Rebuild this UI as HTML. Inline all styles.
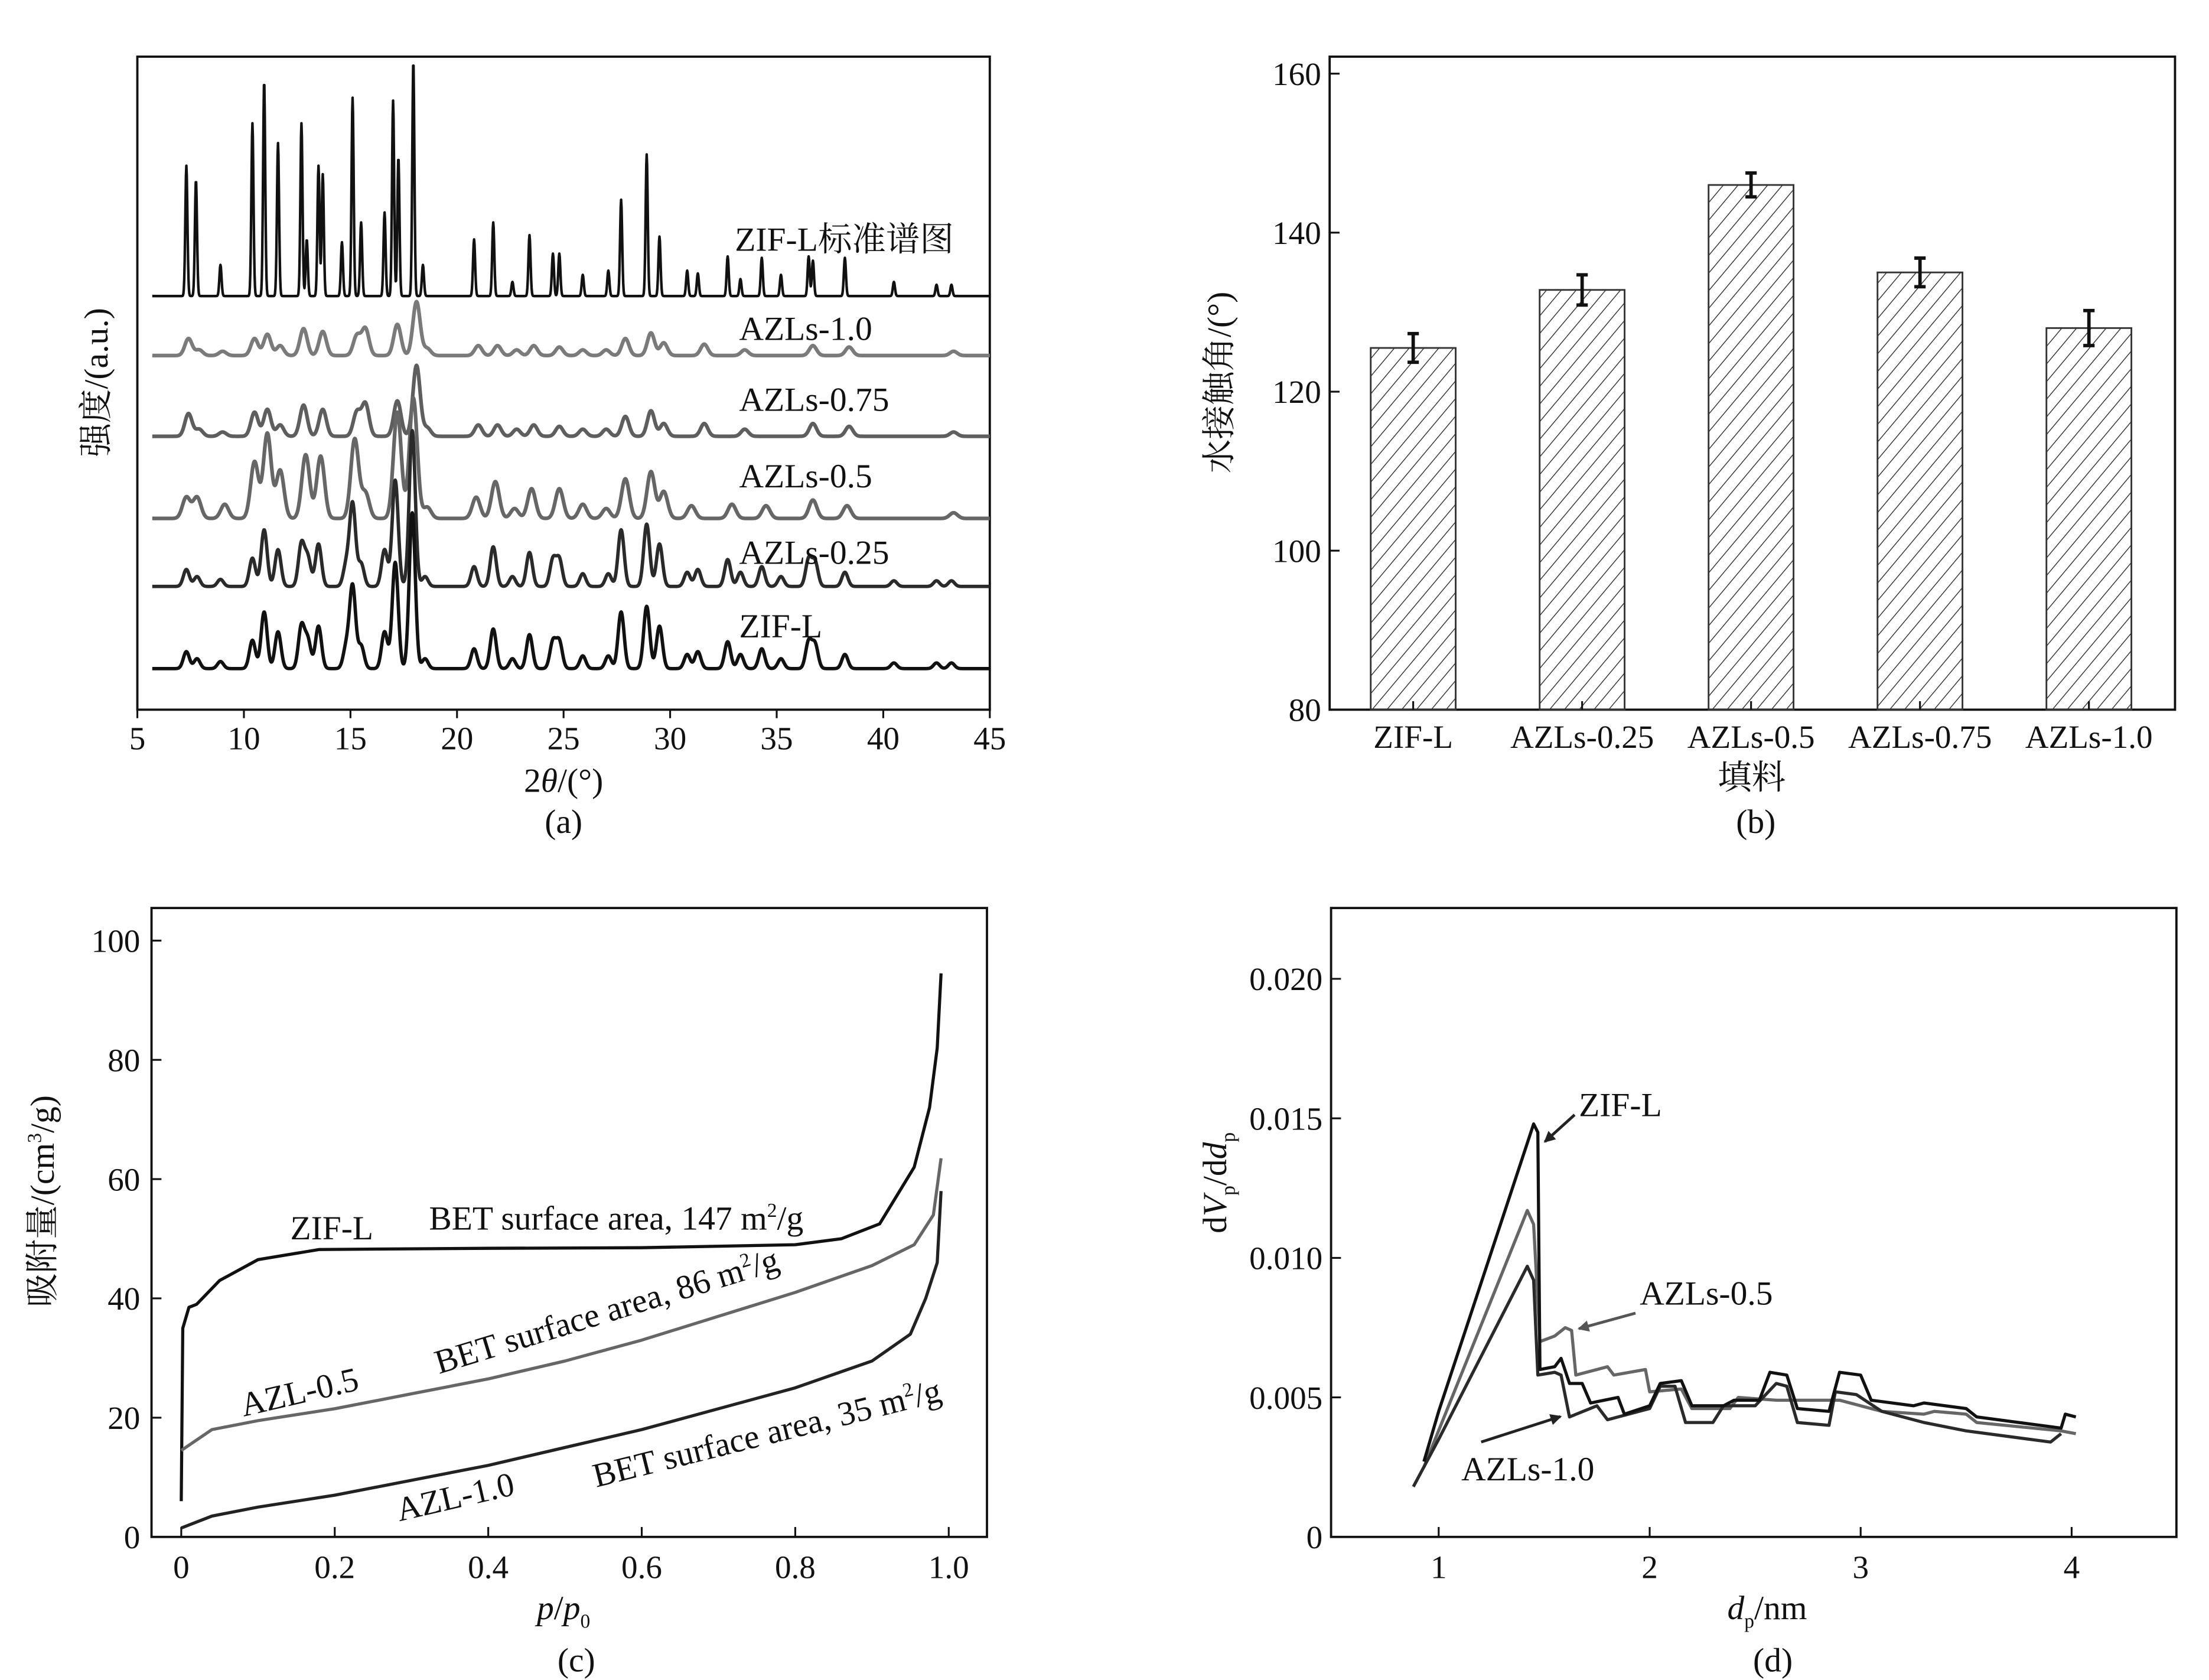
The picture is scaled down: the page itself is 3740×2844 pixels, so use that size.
<!DOCTYPE html>
<html><head><meta charset="utf-8"><style>
html,body{margin:0;padding:0;background:#fff;}
svg{display:block;}
text{font-family:"Liberation Serif","Noto Serif CJK SC",serif;fill:#111;}
</style></head><body>
<svg id="fig" xmlns="http://www.w3.org/2000/svg" width="3740" height="2844" viewBox="0 0 1560 1186" preserveAspectRatio="none">
<defs>
<pattern id="hatch" patternUnits="userSpaceOnUse" width="8" height="8" patternTransform="rotate(40)">
<line x1="0" y1="0" x2="0" y2="8" stroke="#333" stroke-width="1.2"/>
</pattern>
<marker id="arr" markerWidth="8" markerHeight="8" refX="7" refY="4" orient="auto" markerUnits="userSpaceOnUse"><path d="M0,0 L8,4 L0,8 z" fill="#222"/></marker>
<marker id="arrg" markerWidth="8" markerHeight="8" refX="7" refY="4" orient="auto" markerUnits="userSpaceOnUse"><path d="M0,0 L8,4 L0,8 z" fill="#555"/></marker>
</defs>
<g id="pa"></g>
<g id="pb"></g>
<g id="pc"></g>
<g id="pd"></g>
</svg>
<script>
// ---------- Panel (a) XRD data ----------
const xrdStdPos=[7.3,7.75,8.9,10.4,10.95,11.6,12.7,12.95,13.5,13.7,14.6,15.1,15.5,16.6,17.0,17.25,17.95,18.4,20.8,21.7,22.6,23.4,24.5,24.8,25.9,27.1,27.7,28.9,29.5,30.8,31.3,32.7,33.3,34.3,35.2,36.5,36.7,38.2,40.5,42.5,43.2];
const xrdStdH=[92,82,22,122,152,108,122,40,92,86,38,140,52,59,138,98,166,22,40,52,10,43,30,30,15,18,68,100,42,18,16,28,12,27,15,28,25,27,10,8,8];
const xrdExpPos=[7.3,7.8,8.9,10.4,10.95,11.6,12.7,13.0,13.5,14.8,15.1,15.5,16.6,17.1,17.9,18.5,20.8,21.7,22.6,23.4,24.5,24.8,25.9,27.1,27.7,28.9,29.5,30.8,31.3,32.7,33.3,34.3,35.2,36.5,36.8,38.2,40.5,42.5,43.2];
const xrdZifH=[12,7,5,20,40,26,30,20,30,15,58,16,26,75,110,7,14,28,7,24,19,19,9,9,40,44,30,10,12,19,10,14,7,19,17,10,4,4,4];
const xrd025H=[12,7,5,20,40,26,30,20,30,15,58,16,26,75,110,7,14,28,7,24,19,19,9,9,40,44,30,10,12,19,10,14,7,19,17,10,4,4,4];
const xrd05Pos=[7.3,7.8,9.1,10.5,11.1,11.7,12.9,13.6,15.2,15.7,17.2,17.95,18.6,20.9,21.8,22.7,23.5,24.8,25.9,27.0,27.9,29.1,29.7,31.0,32.9,34.5,36.7,38.3,43.3];
const xrd05H=[15,15,10,40,60,34,45,44,56,18,75,85,8,15,26,7,21,21,10,7,28,33,19,9,10,9,13,9,4];
const xrdLowPos=[7.4,7.9,9.0,10.5,11.1,11.7,12.8,13.7,15.3,15.7,17.2,18.1,18.6,21.0,21.9,22.8,23.6,24.8,25.9,27.0,27.9,29.1,29.7,31.6,33.5,36.7,38.4,43.3];
const xrd075H=[16,5,3,17,19,8,22,19,17,23,25,50,6,8,8,5,8,7,5,5,14,18,9,9,5,9,7,3];
const xrd10H=[12,4,3,12,15,7,19,17,14,19,22,38,5,7,7,4,7,6,4,4,12,16,9,8,4,7,6,3];
const xrdNames=["ZIF-L标准谱图","AZLs-1.0","AZLs-0.75","AZLs-0.5","AZLs-0.25","ZIF-L"];
const xrdTicks=[5,10,15,20,25,30,35,40,45];

// ---------- Panel (b) data ----------
const barCats=["ZIF-L","AZLs-0.25","AZLs-0.5","AZLs-0.75","AZLs-1.0"];
const barVals=[125.5,132.8,146.0,135.0,128.0];
const barErr=[1.8,1.9,1.5,1.8,2.2];
const barTicks=[80,100,120,140,160];

// ---------- Panel (c) data ----------
const isoZifP=[0,0.002,0.01,0.02,0.05,0.1,0.18,0.4,0.6,0.8,0.86,0.91,0.955,0.975,0.985,0.99];
const isoZifV=[6,35,38.5,39,43,46.5,48.2,48.4,48.5,49,50,52.5,62,72,82,94.5];
const iso05P=[0,0.04,0.1,0.2,0.3,0.4,0.5,0.6,0.7,0.8,0.9,0.955,0.98,0.99];
const iso05V=[14.5,18,19.5,21.5,24,26.5,29.5,33,37,41,45.5,49,54,63.5];
const iso10P=[0,0.04,0.1,0.2,0.3,0.4,0.5,0.6,0.7,0.8,0.9,0.95,0.97,0.985,0.99];
const iso10V=[1.5,3.5,5,7,9.5,12,15,18,21.5,25,29.5,34,40,46,58];
const isoXTicks=[0,0.2,0.4,0.6,0.8,1.0];
const isoXLabels=["0","0.2","0.4","0.6","0.8","1.0"];
const isoYTicks=[0,20,40,60,80,100];

// ---------- Panel (d) data ----------
const psdZifD=[0.93,1.0,1.45,1.47,1.48,1.55,1.58,1.62,1.68,1.72,1.85,1.88,2.0,2.05,2.15,2.2,2.35,2.4,2.52,2.57,2.65,2.7,2.85,2.9,3.0,3.05,3.25,3.3,3.5,3.55,3.95,3.97,4.02];
const psdZifV=[0.0027,0.0045,0.0148,0.0145,0.006,0.0061,0.0064,0.0055,0.0055,0.0048,0.005,0.0044,0.0047,0.0055,0.0056,0.0047,0.0047,0.0049,0.0049,0.0059,0.0058,0.0046,0.0045,0.0059,0.0058,0.0049,0.0047,0.0048,0.0046,0.0043,0.0039,0.0044,0.0043];
const psd05D=[0.93,1.42,1.45,1.48,1.55,1.6,1.63,1.65,1.8,1.83,1.98,2.0,2.15,2.2,2.38,2.42,2.6,2.9,3.0,3.1,3.3,3.35,3.5,3.55,3.95,4.02];
const psd05V=[0.0025,0.0117,0.0112,0.007,0.0072,0.0075,0.0074,0.0058,0.0061,0.0058,0.006,0.0052,0.0053,0.0046,0.0046,0.005,0.0049,0.0049,0.0047,0.0045,0.0044,0.0045,0.0044,0.0041,0.0038,0.0037];
const psd10D=[0.88,1.0,1.42,1.45,1.47,1.55,1.58,1.62,1.75,1.8,2.0,2.05,2.12,2.17,2.3,2.35,2.5,2.6,2.65,2.7,2.85,2.88,2.98,3.1,3.3,3.5,3.9,3.95];
const psd10V=[0.0018,0.0035,0.0097,0.0092,0.0058,0.0059,0.0058,0.0043,0.0047,0.0042,0.0046,0.0054,0.0054,0.0041,0.0041,0.0047,0.0047,0.0055,0.0054,0.0041,0.004,0.0052,0.0051,0.0045,0.0041,0.0038,0.0034,0.0037];
const psdXTicks=[1,2,3,4];
const psdYTicks=[0,0.005,0.010,0.015,0.020];
const psdYLabels=["0","0.005","0.010","0.015","0.020"];

const NS="http://www.w3.org/2000/svg";
function mk(parent,tag,attrs,txt){const e=document.createElementNS(NS,tag);for(const k in attrs)e.setAttribute(k,attrs[k]);if(txt!==undefined)e.textContent=txt;parent.appendChild(e);return e;}
function pathOf(xs,ys,fx,fy){let d="";for(let i=0;i<xs.length;i++){d+=(i?"L":"M")+fx(xs[i]).toFixed(2)+","+fy(ys[i]).toFixed(2);}return d;}

// ===== Panel A =====
(function(){
const g=document.getElementById('pa');
const L=97,R=699,T=40,B=501;
const fx=v=>L+(v-5)*(R-L)/40;
let e=mk(g,'rect',{x:L,y:T,width:R-L,height:B-T,fill:'none',stroke:'#111','stroke-width':1.6});

xrdTicks.forEach(t=>{
 let tk=mk(g,'line',{x1:fx(t),x2:fx(t),y1:B,y2:B+6,stroke:'#111','stroke-width':1.3});
 
 let lb=mk(g,'text',{x:fx(t),y:529,'font-size':23,'text-anchor':'middle'},String(t));
 
});
const traces=[
 {pos:xrdStdPos,h:xrdStdH,base:209,w:0.07,col:'#111',sw:1.8},
 {pos:xrdLowPos,h:xrd10H,base:251,w:0.24,col:'#7a7a7a',sw:2.6},
 {pos:xrdLowPos,h:xrd075H,base:308,w:0.24,col:'#5e5e5e',sw:2.6},
 {pos:xrd05Pos,h:xrd05H,base:366,w:0.26,col:'#666',sw:2.6},
 {pos:xrdExpPos,h:xrd025H,base:414,w:0.2,col:'#2a2a2a',sw:2.4},
 {pos:xrdExpPos,h:xrdZifH,base:472,w:0.2,col:'#111',sw:2.4}
];
const names=['trace-zif-l-standard','trace-azls-1.0','trace-azls-0.75','trace-azls-0.5','trace-azls-0.25','trace-zif-l'];
traces.forEach((tr,k)=>{
 let d="";
 for(let x=5.7;x<=45.001;x+=0.02){
  let y=0;for(let i=0;i<tr.pos.length;i++){const z=(x-tr.pos[i])/tr.w;y+=tr.h[i]*Math.exp(-z*z);}
  d+=(d?"L":"M")+fx(x).toFixed(2)+","+(tr.base-y).toFixed(2);
 }
 let p=mk(g,'path',{d:d,fill:'none',stroke:tr.col,'stroke-width':tr.sw,'stroke-linejoin':'round'});
 
});
const lblY=[177,240,290,344,398,450];
xrdNames.forEach((n,i)=>{
 let t=mk(g,'text',{x:i==0?519:522,y:lblY[i],'font-size':24},n);
 
});
e=mk(g,'text',{x:0,y:0,'font-size':24,'text-anchor':'middle',transform:'translate(76,270) rotate(-90)'},'强度/(a.u.)');

e=mk(g,'text',{x:398,y:559,'font-size':24,'text-anchor':'middle'});

e.innerHTML='2<tspan font-style="italic">θ</tspan>/(°)';
e=mk(g,'text',{x:398,y:588,'font-size':24,'text-anchor':'middle'},'(a)');

})();

// ===== Panel B =====
(function(){
const g=document.getElementById('pb');
const L=939,R=1536,T=40,B=501;
const fy=v=>B-(v-80)*(449/80);
const cx=i=>998+i*119.3;
let e=mk(g,'rect',{x:L,y:T,width:R-L,height:B-T,fill:'none',stroke:'#111','stroke-width':1.6});

barTicks.forEach(t=>{
 let tk=mk(g,'line',{x1:L,x2:L+7,y1:fy(t),y2:fy(t),stroke:'#111','stroke-width':1.3});
 
 let lb=mk(g,'text',{x:L-6,y:fy(t)+8,'font-size':23,'text-anchor':'end'},String(t));
 
});
barCats.forEach((c,i)=>{
 const x=cx(i),w=60,top=fy(barVals[i]);
 let b=mk(g,'rect',{x:x-w/2,y:top,width:w,height:B-top,fill:'url(#hatch)',stroke:'#333','stroke-width':1.2});
 
 const y1=fy(barVals[i]+barErr[i]),y2=fy(barVals[i]-barErr[i]);
 let eb=mk(g,'path',{d:`M${x},${y1}L${x},${y2}M${x-4},${y1}L${x+4},${y1}M${x-4},${y2}L${x+4},${y2}`,stroke:'#111','stroke-width':2.4,fill:'none'});
 
 let tk=mk(g,'line',{x1:x,x2:x,y1:B,y2:B-6,stroke:'#111','stroke-width':1.3});
 
 let lb=mk(g,'text',{x:x,y:528,'font-size':23,'text-anchor':'middle'},c);
 
});
e=mk(g,'text',{x:1237,y:557,'font-size':24,'text-anchor':'middle'},'填料');

e=mk(g,'text',{x:0,y:0,'font-size':24,'text-anchor':'middle',transform:'translate(869,270) rotate(-90)'},'水接触角/(°)');

e=mk(g,'text',{x:1240,y:588,'font-size':24,'text-anchor':'middle'},'(b)');

})();

// ===== Panel C =====
(function(){
const g=document.getElementById('pc');
const L=107,R=697,T=641,B=1085;
const fx=v=>128+v*542;
const fy=v=>B-v*4.21;
let e=mk(g,'rect',{x:L,y:T,width:R-L,height:B-T,fill:'none',stroke:'#111','stroke-width':1.6});

isoYTicks.forEach(t=>{
 let tk=mk(g,'line',{x1:L,x2:L+7,y1:fy(t),y2:fy(t),stroke:'#111','stroke-width':1.3});
 
 let lb=mk(g,'text',{x:L-8,y:fy(t)+8,'font-size':23,'text-anchor':'end'},String(t));
 
});
isoXTicks.forEach((t,i)=>{
 let tk=mk(g,'line',{x1:fx(t),x2:fx(t),y1:B,y2:B-7,stroke:'#111','stroke-width':1.3});
 
 let lb=mk(g,'text',{x:fx(t),y:1114,'font-size':23,'text-anchor':'middle'},isoXLabels[i]);
 
});
const series=[[isoZifP,isoZifV,'#111','isotherm-zif-l'],[iso05P,iso05V,'#666','isotherm-azl-0.5'],[iso10P,iso10V,'#222','isotherm-azl-1.0']];
series.forEach(s=>{
 let p=mk(g,'path',{d:pathOf(s[0],s[1],fx,fy),fill:'none',stroke:s[2],'stroke-width':2.2,'stroke-linejoin':'round'});
 
});
const ann=[
 ['ZIF-L',205,875,0],
 ['BET surface area, 147 m<tspan font-size="14" dy="-9">2</tspan><tspan dy="9">/g</tspan>',303,868,0],
 ['BET surface area, 86 m<tspan font-size="14" dy="-9">2</tspan><tspan dy="9">/g</tspan>',310,970,-17],
 ['AZL-0.5',172,1000,-13],
 ['AZL-1.0',282,1074,-13],
 ['BET surface area, 35 m<tspan font-size="14" dy="-9">2</tspan><tspan dy="9">/g</tspan>',421,1050,-14]
];
ann.forEach(a=>{
 let t=mk(g,'text',{x:0,y:0,'font-size':24,transform:`translate(${a[1]},${a[2]}) rotate(${a[3]})`});
 t.innerHTML=a[0];
 
});
e=mk(g,'text',{x:0,y:0,'font-size':24,'text-anchor':'middle',transform:'translate(38,848) rotate(-90)'});
e.innerHTML='吸附量/(cm<tspan font-size="14" dy="-9">3</tspan><tspan dy="9">/g)</tspan>';

e=mk(g,'text',{x:398,y:1143,'font-size':24,'text-anchor':'middle'});
e.innerHTML='<tspan font-style="italic">p</tspan>/<tspan font-style="italic">p</tspan><tspan font-size="14" dy="6">0</tspan>';

e=mk(g,'text',{x:407,y:1180,'font-size':24,'text-anchor':'middle'},'(c)');

})();

// ===== Panel D =====
(function(){
const g=document.getElementById('pd');
const L=940,R=1537,T=641,B=1085;
const fx=v=>1016+(v-1)*149;
const fy=v=>B-v*19700;
let e=mk(g,'rect',{x:L,y:T,width:R-L,height:B-T,fill:'none',stroke:'#111','stroke-width':1.6});

psdYTicks.forEach((t,i)=>{
 let tk=mk(g,'line',{x1:L,x2:L+7,y1:fy(t),y2:fy(t),stroke:'#111','stroke-width':1.3});
 
 let lb=mk(g,'text',{x:L-6,y:fy(t)+8,'font-size':23,'text-anchor':'end'},psdYLabels[i]);
 
});
psdXTicks.forEach(t=>{
 let tk=mk(g,'line',{x1:fx(t),x2:fx(t),y1:B,y2:B-7,stroke:'#111','stroke-width':1.3});
 
 let lb=mk(g,'text',{x:fx(t),y:1114,'font-size':23,'text-anchor':'middle'},String(t));
 
});
const series=[[psd05D,psd05V,'#666','psd-azls-0.5'],[psd10D,psd10V,'#2a2a2a','psd-azls-1.0'],[psdZifD,psdZifV,'#111','psd-zif-l']];
series.forEach(s=>{
 let p=mk(g,'path',{d:pathOf(s[0],s[1],fx,fy),fill:'none',stroke:s[2],'stroke-width':2.2,'stroke-linejoin':'round'});
 
});
e=mk(g,'line',{x1:1112,y1:787,x2:1091,y2:806,stroke:'#222','stroke-width':2,'marker-end':'url(#arr)'});

e=mk(g,'text',{x:1115,y:788,'font-size':24},'ZIF-L');

e=mk(g,'line',{x1:1155,y1:927,x2:1115,y2:938,stroke:'#555','stroke-width':2,'marker-end':'url(#arrg)'});

e=mk(g,'text',{x:1158,y:921,'font-size':24},'AZLs-0.5');

e=mk(g,'line',{x1:1046,y1:1018,x2:1102,y2:1000,stroke:'#222','stroke-width':2,'marker-end':'url(#arr)'});

e=mk(g,'text',{x:1032,y:1045,'font-size':24},'AZLs-1.0');

e=mk(g,'text',{x:0,y:0,'font-size':24,'text-anchor':'middle',transform:'translate(866,835) rotate(-90)'});
e.innerHTML='d<tspan font-style="italic">V</tspan><tspan font-size="14" dy="6">p</tspan><tspan dy="-6">/d</tspan><tspan font-style="italic">d</tspan><tspan font-size="14" dy="6">p</tspan>';

e=mk(g,'text',{x:1248,y:1143,'font-size':24,'text-anchor':'middle'});
e.innerHTML='<tspan font-style="italic">d</tspan><tspan font-size="14" dy="6">p</tspan><tspan dy="-6">/nm</tspan>';

e=mk(g,'text',{x:1252,y:1180,'font-size':24,'text-anchor':'middle'},'(d)');

})();
</script>
</body></html>
